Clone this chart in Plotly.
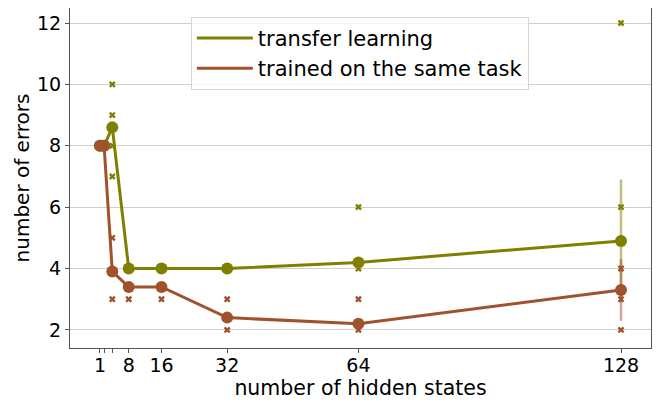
import plotly.graph_objects as go

hidden_states = [1, 2, 4, 8, 16, 32, 64, 128]
transfer_mean = [8.0, 8.0, 8.6, 4.0, 4.0, 4.0, 4.2, 4.9]
same_task_mean = [8.0, 8.0, 3.9, 3.4, 3.4, 2.4, 2.2, 3.3]

# individual runs (scatter crosses)
transfer_runs_x = [4, 4, 4, 4, 64, 64, 128, 128]
transfer_runs_y = [10, 9, 8, 7, 6, 4, 12, 6]
same_runs_x = [4, 4, 8, 16, 32, 32, 64, 64, 128, 128, 128]
same_runs_y = [5, 3, 3, 3, 3, 2, 3, 2, 4, 3, 2]

# error bars at the last point
err_x = [128]
transfer_err = [2.0]
same_err = [1.0]

x_tickvals = [1, 2, 4, 8, 16, 32, 64, 128]
x_ticktext = ["1", "", "", "8", "16", "32", "64", "128"]
y_tickvals = [2, 4, 6, 8, 10, 12]

OLIVE = "#808000"
BROWN = "#a0522d"
FONT = "DejaVu Sans"

fig = go.Figure()

# error bars
fig.add_trace(go.Scatter(x=err_x, y=[transfer_mean[-1]], mode="markers",
                         marker=dict(size=1, color="rgba(0,0,0,0)"),
                         error_y=dict(type="data", array=transfer_err, color="rgba(128,128,0,0.5)",
                                      thickness=2.5, width=0),
                         showlegend=False, hoverinfo="skip"))
fig.add_trace(go.Scatter(x=err_x, y=[same_task_mean[-1]], mode="markers",
                         marker=dict(size=1, color="rgba(0,0,0,0)"),
                         error_y=dict(type="data", array=same_err, color="rgba(160,82,45,0.5)",
                                      thickness=2.5, width=0),
                         showlegend=False, hoverinfo="skip"))

# scatter of runs
fig.add_trace(go.Scatter(x=transfer_runs_x, y=transfer_runs_y, mode="markers",
                         marker=dict(symbol="x", size=6, color=OLIVE, line=dict(width=0)),
                         showlegend=False))
fig.add_trace(go.Scatter(x=same_runs_x, y=same_runs_y, mode="markers",
                         marker=dict(symbol="x", size=6, color=BROWN, line=dict(width=0)),
                         showlegend=False))

# means
fig.add_trace(go.Scatter(x=hidden_states, y=transfer_mean, mode="lines+markers",
                         line=dict(color=OLIVE, width=3),
                         marker=dict(size=12, color=OLIVE), showlegend=False))
fig.add_trace(go.Scatter(x=hidden_states, y=same_task_mean, mode="lines+markers",
                         line=dict(color=BROWN, width=3),
                         marker=dict(size=12, color=BROWN), showlegend=False))

# legend entries (lines only)
fig.add_trace(go.Scatter(x=[None], y=[None], mode="lines", name="transfer learning",
                         line=dict(color=OLIVE, width=3)))
fig.add_trace(go.Scatter(x=[None], y=[None], mode="lines", name="trained on the same task",
                         line=dict(color=BROWN, width=3)))

# the page body has an 8px margin, so the figure is sized/offset to compensate
fig.update_layout(
    width=652, height=392,
    margin=dict(l=62, r=9, t=0, b=52, autoexpand=False),
    paper_bgcolor="white", plot_bgcolor="white",
    font=dict(family=FONT, size=19, color="black"),
    legend=dict(x=0.208, y=0.974, xanchor="left", yanchor="top",
                bgcolor="rgba(255,255,255,0.8)", bordercolor="#d5d5d5", borderwidth=1,
                font=dict(size=21, family=FONT), itemwidth=56, tracegroupgap=0),
    xaxis=dict(range=[-6.31, 135.31], tickvals=x_tickvals, ticktext=x_ticktext,
               showgrid=False, zeroline=False, showline=True, linecolor="#555555",
               linewidth=1, mirror=True, ticks="outside", ticklen=4, tickcolor="#555555",
               automargin=False, ticklabelstandoff=-4,
               title=dict(text="number of hidden states", standoff=5, font=dict(size=20.5)),
               tickfont=dict(size=19)),
    yaxis=dict(range=[1.41, 12.49], tickvals=y_tickvals,
               showgrid=True, gridcolor="#cfcfcf", gridwidth=1, zeroline=False,
               showline=True, linecolor="#555555", linewidth=1, mirror=True,
               ticks="outside", ticklen=4, tickcolor="#555555",
               automargin=False,
               title=dict(text="number of errors", standoff=2, font=dict(size=20)),
               tickfont=dict(size=19)),
)

fig.write_html("out.html")
